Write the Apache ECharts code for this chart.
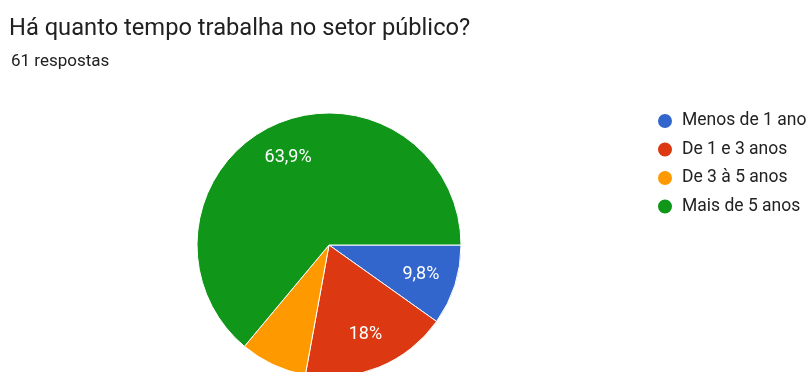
<!DOCTYPE html>
<html>
<head>
<meta charset="utf-8">
<script src="https://cdn.jsdelivr.net/npm/echarts@6/dist/echarts.min.js"></script>
<style>
html,body{margin:0;padding:0;background:#fff;}
#chart{width:809px;height:372px;}
</style>
</head>
<body>
<div id="chart"></div>
<script>
const titleText = "Há quanto tempo trabalha no setor público?";
const subtitleText = "61 respostas";
const categories = ["Menos de 1 ano", "De 1 e 3 anos", "De 3 à 5 anos", "Mais de 5 anos"];
const counts = [6, 11, 5, 39];
const colors = ["#3366cc", "#dc3912", "#ff9900", "#109618"];

const total = counts.reduce((a, b) => a + b, 0);
function pctLabel(v) {
  let p = Math.round(v / total * 1000) / 10;
  let s = (p % 1 === 0) ? String(p) : p.toFixed(1);
  return s.replace('.', ',') + '%';
}

const chart = echarts.init(document.getElementById('chart'), null, {renderer: 'canvas'});
const center = [329, 245];
const R = 132;

const option = {
  backgroundColor: '#ffffff',
  animation: false,
  title: [
    {text: titleText, left: 9, top: 17, padding: 0, textStyle: {fontFamily: 'Roboto', fontSize: 23.7, fontWeight: 'normal', color: '#212121'}},
    {text: subtitleText, left: 11, top: 53, padding: 0, textStyle: {fontFamily: 'Roboto', fontSize: 17, fontWeight: 'normal', color: '#212121'}}
  ],
  legend: {
    orient: 'vertical',
    left: 656,
    top: 112,
    padding: 0,
    icon: 'circle',
    itemWidth: 16,
    itemHeight: 16,
    itemGap: 10.5,
    textStyle: {fontFamily: 'Roboto', fontSize: 17.5, lineHeight: 18, color: '#222222', padding: [0, 0, 0, 4]},
    data: categories.map((c, i) => ({name: c, itemStyle: {color: colors[i]}})),
    selectedMode: false
  },
  series: [
    {
      type: 'pie',
      center: center,
      radius: [0, R],
      startAngle: 0,
      clockwise: true,
      silent: true,
      avoidLabelOverlap: false,
      itemStyle: {borderColor: '#ffffff', borderWidth: 1},
      label: {show: false},
      labelLine: {show: false},
      data: categories.map((c, i) => ({name: c, value: counts[i], itemStyle: {color: colors[i]}}))
    },
    {
      type: 'pie',
      center: center,
      radius: [55, R],
      startAngle: 0,
      clockwise: true,
      silent: true,
      avoidLabelOverlap: false,
      itemStyle: {color: 'rgba(0,0,0,0)', borderWidth: 0},
      label: {
        show: true,
        position: 'inside',
        fontFamily: 'Roboto',
        fontSize: 18,
        color: '#ffffff',
        formatter: p => pctLabel(p.value)
      },
      labelLine: {show: false},
      data: categories.map((c, i) => ({
        name: c,
        value: counts[i],
        label: {show: counts[i] / total >= 0.09}
      }))
    }
  ]
};
chart.setOption(option);
</script>
</body>
</html>
